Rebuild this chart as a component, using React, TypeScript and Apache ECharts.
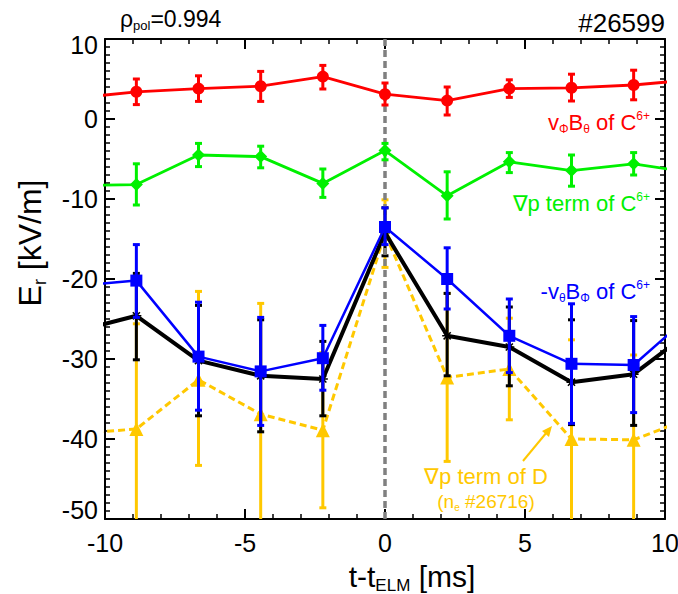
import React, { useEffect, useRef } from 'react';
import * as echarts from 'echarts';

// ---- data ----
const tPoints = [-8.88, -6.66, -4.44, -2.22, 0, 2.22, 4.44, 6.66, 8.88];
const tEdges = [-11.1, 11.1]; // neighbouring points just outside the plotted window

const redVals = [3.4, 3.8, 4.1, 5.3, 3.1, 2.3, 3.8, 3.9, 4.25];
const redLow = [1.8, 2.2, 2.2, 3.75, 1.75, 0.5, 2.7, 2.25, 2.4];
const redHigh = [5.0, 5.4, 5.95, 6.7, 4.5, 4.0, 4.9, 5.6, 6.1];
const redEdges = [2.6, 4.95];

const greenVals = [-8.2, -4.5, -4.7, -8.05, -3.95, -9.6, -5.35, -6.45, -5.6];
const greenLow = [-10.75, -5.95, -6.1, -9.8, -5.1, -12.5, -6.7, -8.4, -7.0];
const greenHigh = [-5.6, -3.05, -3.4, -6.25, -3.05, -6.6, -4.2, -4.5, -4.2];
const greenEdges = [-8.3, -6.8];

const blueVals = [-20.2, -29.7, -31.55, -29.9, -13.5, -20.0, -27.1, -30.6, -30.75];
const blueLow = [-24.8, -36.4, -38.3, -33.9, -15.7, -23.75, -31.7, -38.05, -36.7];
const blueHigh = [-15.7, -22.9, -24.8, -25.8, -11.1, -16.1, -22.5, -23.1, -24.7];
const blueEdges = [-20.9, -23.9];

const blackVals = [-24.6, -30.2, -32.1, -32.5, -14.2, -27.1, -28.5, -32.9, -31.9];
const blackLow = [-30.1, -37.1, -39.1, -37.1, -17.1, -32.1, -33.35, -38.2, -38.3];
const blackHigh = [-19.3, -23.3, -25.1, -27.8, -11.1, -21.8, -23.5, -25.1, -25.2];
const blackEdges = [-26.6, -26.05];

const yellowVals = [-38.75, -32.6, -36.9, -38.9, -14.3, -32.3, -31.25, -40.0, -40.1];
const yellowLow = [-51.8, -43.3, -50.8, -48.6, -18.55, -42.8, -37.6, -52.4, -50.7];
const yellowHigh = [-25.6, -21.55, -23.05, -29.2, -10.1, -21.8, -24.9, -27.6, -29.5];
const yellowEdges = [-39.35, -37.1];

const elmTime = 0;
const xTicks = { min: -10, max: 10, interval: 5 };
const yTicks = { min: -50, max: 10, interval: 10 };

// ---- style ----
const FONT = 'Liberation Sans, Arial, Helvetica, sans-serif';
const RED = '#ff0000';
const GREEN = '#00f000';
const BLUE = '#0000ff';
const BLACK = '#000000';
const YELLOW = '#ffc800';
const GRAY = '#808080';

const ASTERISK =
  'path://M-5,-0.8L5,-0.8L5,0.8L-5,0.8Z M-0.8,-5L0.8,-5L0.8,5L-0.8,5Z M-4.1,-3L-3,-4.1L4.1,3L3,4.1Z M3,-4.1L4.1,-3L-3,4.1L-4.1,3Z';

function mkRich(size: number, color: string) {
  const s = Math.round(size * 0.55);
  return {
    m: { fontSize: size, fontFamily: FONT, fill: color, color, lineHeight: Math.round(size * 1.15) },
    sub: { fontSize: s, fontFamily: FONT, fill: color, color, verticalAlign: 'bottom', lineHeight: s },
    sup: { fontSize: s, fontFamily: FONT, fill: color, color, verticalAlign: 'top', lineHeight: s },
  };
}

function richText(x: number, y: number, text: string, size: number, color: string, align: string, rotation = 0) {
  return {
    type: 'text',
    x,
    y,
    rotation,
    silent: true,
    z: 100,
    style: {
      text,
      rich: mkRich(size, color),
      fill: color,
      font: `${size}px ${FONT}`,
      align,
      verticalAlign: 'middle',
    },
  };
}

function errSeries(lows: number[], highs: number[], color: string, z: number) {
  return {
    type: 'custom',
    z,
    silent: true,
    xAxisIndex: 0,
    yAxisIndex: 0,
    data: tPoints.map((t, i) => [t, lows[i], highs[i]]),
    encode: { x: 0, y: [1, 2] },
    renderItem: (params: any, api: any) => {
      const cs = params.coordSys;
      const x = api.value(0);
      const lo = api.value(1);
      const hi = api.value(2);
      const pTop = api.coord([x, hi]);
      const pBot = api.coord([x, lo]);
      const minY = cs.y;
      const maxY = cs.y + cs.height;
      const y1 = Math.max(pTop[1], minY);
      const y2 = Math.min(pBot[1], maxY);
      const capW = 7;
      const capH = 3;
      const children: any[] = [
        { type: 'line', shape: { x1: pTop[0], y1, x2: pTop[0], y2 }, style: { stroke: color, lineWidth: 3 } },
      ];
      if (pTop[1] >= minY)
        children.push({
          type: 'rect',
          shape: { x: pTop[0] - capW / 2, y: pTop[1] - capH / 2, width: capW, height: capH },
          style: { fill: color },
        });
      if (pBot[1] <= maxY)
        children.push({
          type: 'rect',
          shape: { x: pBot[0] - capW / 2, y: pBot[1] - capH / 2, width: capW, height: capH },
          style: { fill: color },
        });
      return { type: 'group', children };
    },
  };
}

function lineSeries(
  vals: number[],
  edges: number[],
  color: string,
  symbol: string,
  symbolSize: number,
  width: number,
  z: number,
  dashed = false
) {
  return {
    type: 'line',
    z,
    silent: true,
    xAxisIndex: 0,
    yAxisIndex: 0,
    clip: true,
    symbol,
    symbolSize,
    symbolKeepAspect: true,
    showAllSymbol: true,
    data: [
      { value: [tEdges[0], edges[0]], symbol: 'none' },
      ...tPoints.map((t, i) => [t, vals[i]]),
      { value: [tEdges[1], edges[1]], symbol: 'none' },
    ],
    itemStyle: { color, borderWidth: 0 },
    lineStyle: { color, width, type: dashed ? [7, 4] : 'solid' },
  };
}

const axisCommon = {
  type: 'value',
  axisLine: { show: true, onZero: false, lineStyle: { color: '#000', width: 2 } },
  axisTick: { show: true, inside: true, length: 10, lineStyle: { color: '#000', width: 2 } },
  minorTick: { show: true, length: 5, lineStyle: { color: '#000', width: 1.5 } },
  splitLine: { show: false },
  minorSplitLine: { show: false },
};

export default function App() {
  const ref = useRef<HTMLDivElement>(null);
  useEffect(() => {
    if (!ref.current) return;
    const chart = echarts.init(ref.current, null, { renderer: 'svg' });
    const labelStyle = { fontSize: 25, fontFamily: FONT, color: '#000' };
    const option: any = {
      animation: false,
      backgroundColor: '#ffffff',
      grid: { left: 105, top: 39, width: 560, height: 480, containLabel: false, outerBoundsMode: 'none' },
      xAxis: [
        {
          ...axisCommon,
          ...xTicks,
          position: 'bottom',
          minorTick: { ...axisCommon.minorTick, splitNumber: 5 },
          axisLabel: { ...labelStyle, margin: 11, showMinLabel: true, showMaxLabel: true },
        },
        {
          ...axisCommon,
          ...xTicks,
          position: 'top',
          minorTick: { ...axisCommon.minorTick, splitNumber: 5 },
          axisLabel: { show: false },
        },
      ],
      yAxis: [
        {
          ...axisCommon,
          ...yTicks,
          position: 'left',
          minorTick: { ...axisCommon.minorTick, splitNumber: 10 },
          axisLabel: {
            ...labelStyle,
            margin: 7,
            showMinLabel: true,
            showMaxLabel: true,
            formatter: (v: number) => (v === yTicks.max ? `{t|${v}}` : v === yTicks.min ? `{b|${v}}` : String(v)),
            rich: {
              t: { ...labelStyle, padding: [12, 0, 0, 0] },
              b: { ...labelStyle, padding: [0, 0, 18, 0] },
            },
          },
        },
        {
          ...axisCommon,
          ...yTicks,
          position: 'right',
          minorTick: { ...axisCommon.minorTick, splitNumber: 10 },
          axisLabel: { show: false },
        },
      ],
      series: [
        {
          type: 'line',
          z: 1,
          data: [],
          xAxisIndex: 0,
          yAxisIndex: 0,
          silent: true,
          markLine: {
            silent: true,
            symbol: 'none',
            label: { show: false },
            lineStyle: { color: GRAY, width: 3.5, type: [7, 4] },
            data: [{ xAxis: elmTime }],
          },
        },
        errSeries(yellowLow, yellowHigh, YELLOW, 2),
        lineSeries(yellowVals, yellowEdges, YELLOW, 'triangle', 14, 3, 3, true),
        errSeries(blackLow, blackHigh, BLACK, 4),
        lineSeries(blackVals, blackEdges, BLACK, ASTERISK, 10, 4, 5),
        errSeries(blueLow, blueHigh, BLUE, 6),
        lineSeries(blueVals, blueEdges, BLUE, 'rect', 12, 2.5, 7),
        errSeries(redLow, redHigh, RED, 8),
        lineSeries(redVals, redEdges, RED, 'circle', 12, 2.8, 9),
        errSeries(greenLow, greenHigh, GREEN, 8),
        lineSeries(greenVals, greenEdges, GREEN, 'diamond', 13, 2.8, 9),
      ],
      graphic: [
        richText(120, 19, '{m|ρ}{sub|pol}{m|=0.994}', 23, '#000', 'left'),
        richText(665, 23, '{m|#26599}', 26, '#000', 'right'),
        richText(650, 122, '{m|v}{sub|Φ}{m|B}{sub|θ}{m| of C}{sup|6+}', 22, RED, 'right'),
        richText(650, 203, '{m|∇p term of C}{sup|6+}', 22, GREEN, 'right'),
        richText(650, 291, '{m|-v}{sub|θ}{m|B}{sub|Φ}{m| of C}{sup|6+}', 22, BLUE, 'right'),
        richText(486, 476, '{m|∇p term of D}', 22, YELLOW, 'center'),
        richText(486, 501, '{m|(n}{sub|e}{m| #26716)}', 19, YELLOW, 'center'),
        richText(30, 243, '{m|E}{sub|r}{m| [kV/m]}', 32, '#000', 'center', Math.PI / 2),
        richText(412, 576, '{m|t-t}{sub|ELM}{m| [ms]}', 30, '#000', 'center'),
        {
          type: 'line',
          silent: true,
          z: 100,
          shape: { x1: 523, y1: 461, x2: 547, y2: 432 },
          style: { stroke: YELLOW, lineWidth: 2 },
        },
        {
          type: 'polygon',
          silent: true,
          z: 100,
          shape: { points: [[552, 426], [549, 437], [542, 431]] },
          style: { fill: YELLOW },
        },
      ],
    };
    chart.setOption(option);
    return () => chart.dispose();
  }, []);
  return <div ref={ref} style={{ position: 'absolute', left: 0, top: 0, width: 678, height: 594, background: '#fff' }} />;
}
